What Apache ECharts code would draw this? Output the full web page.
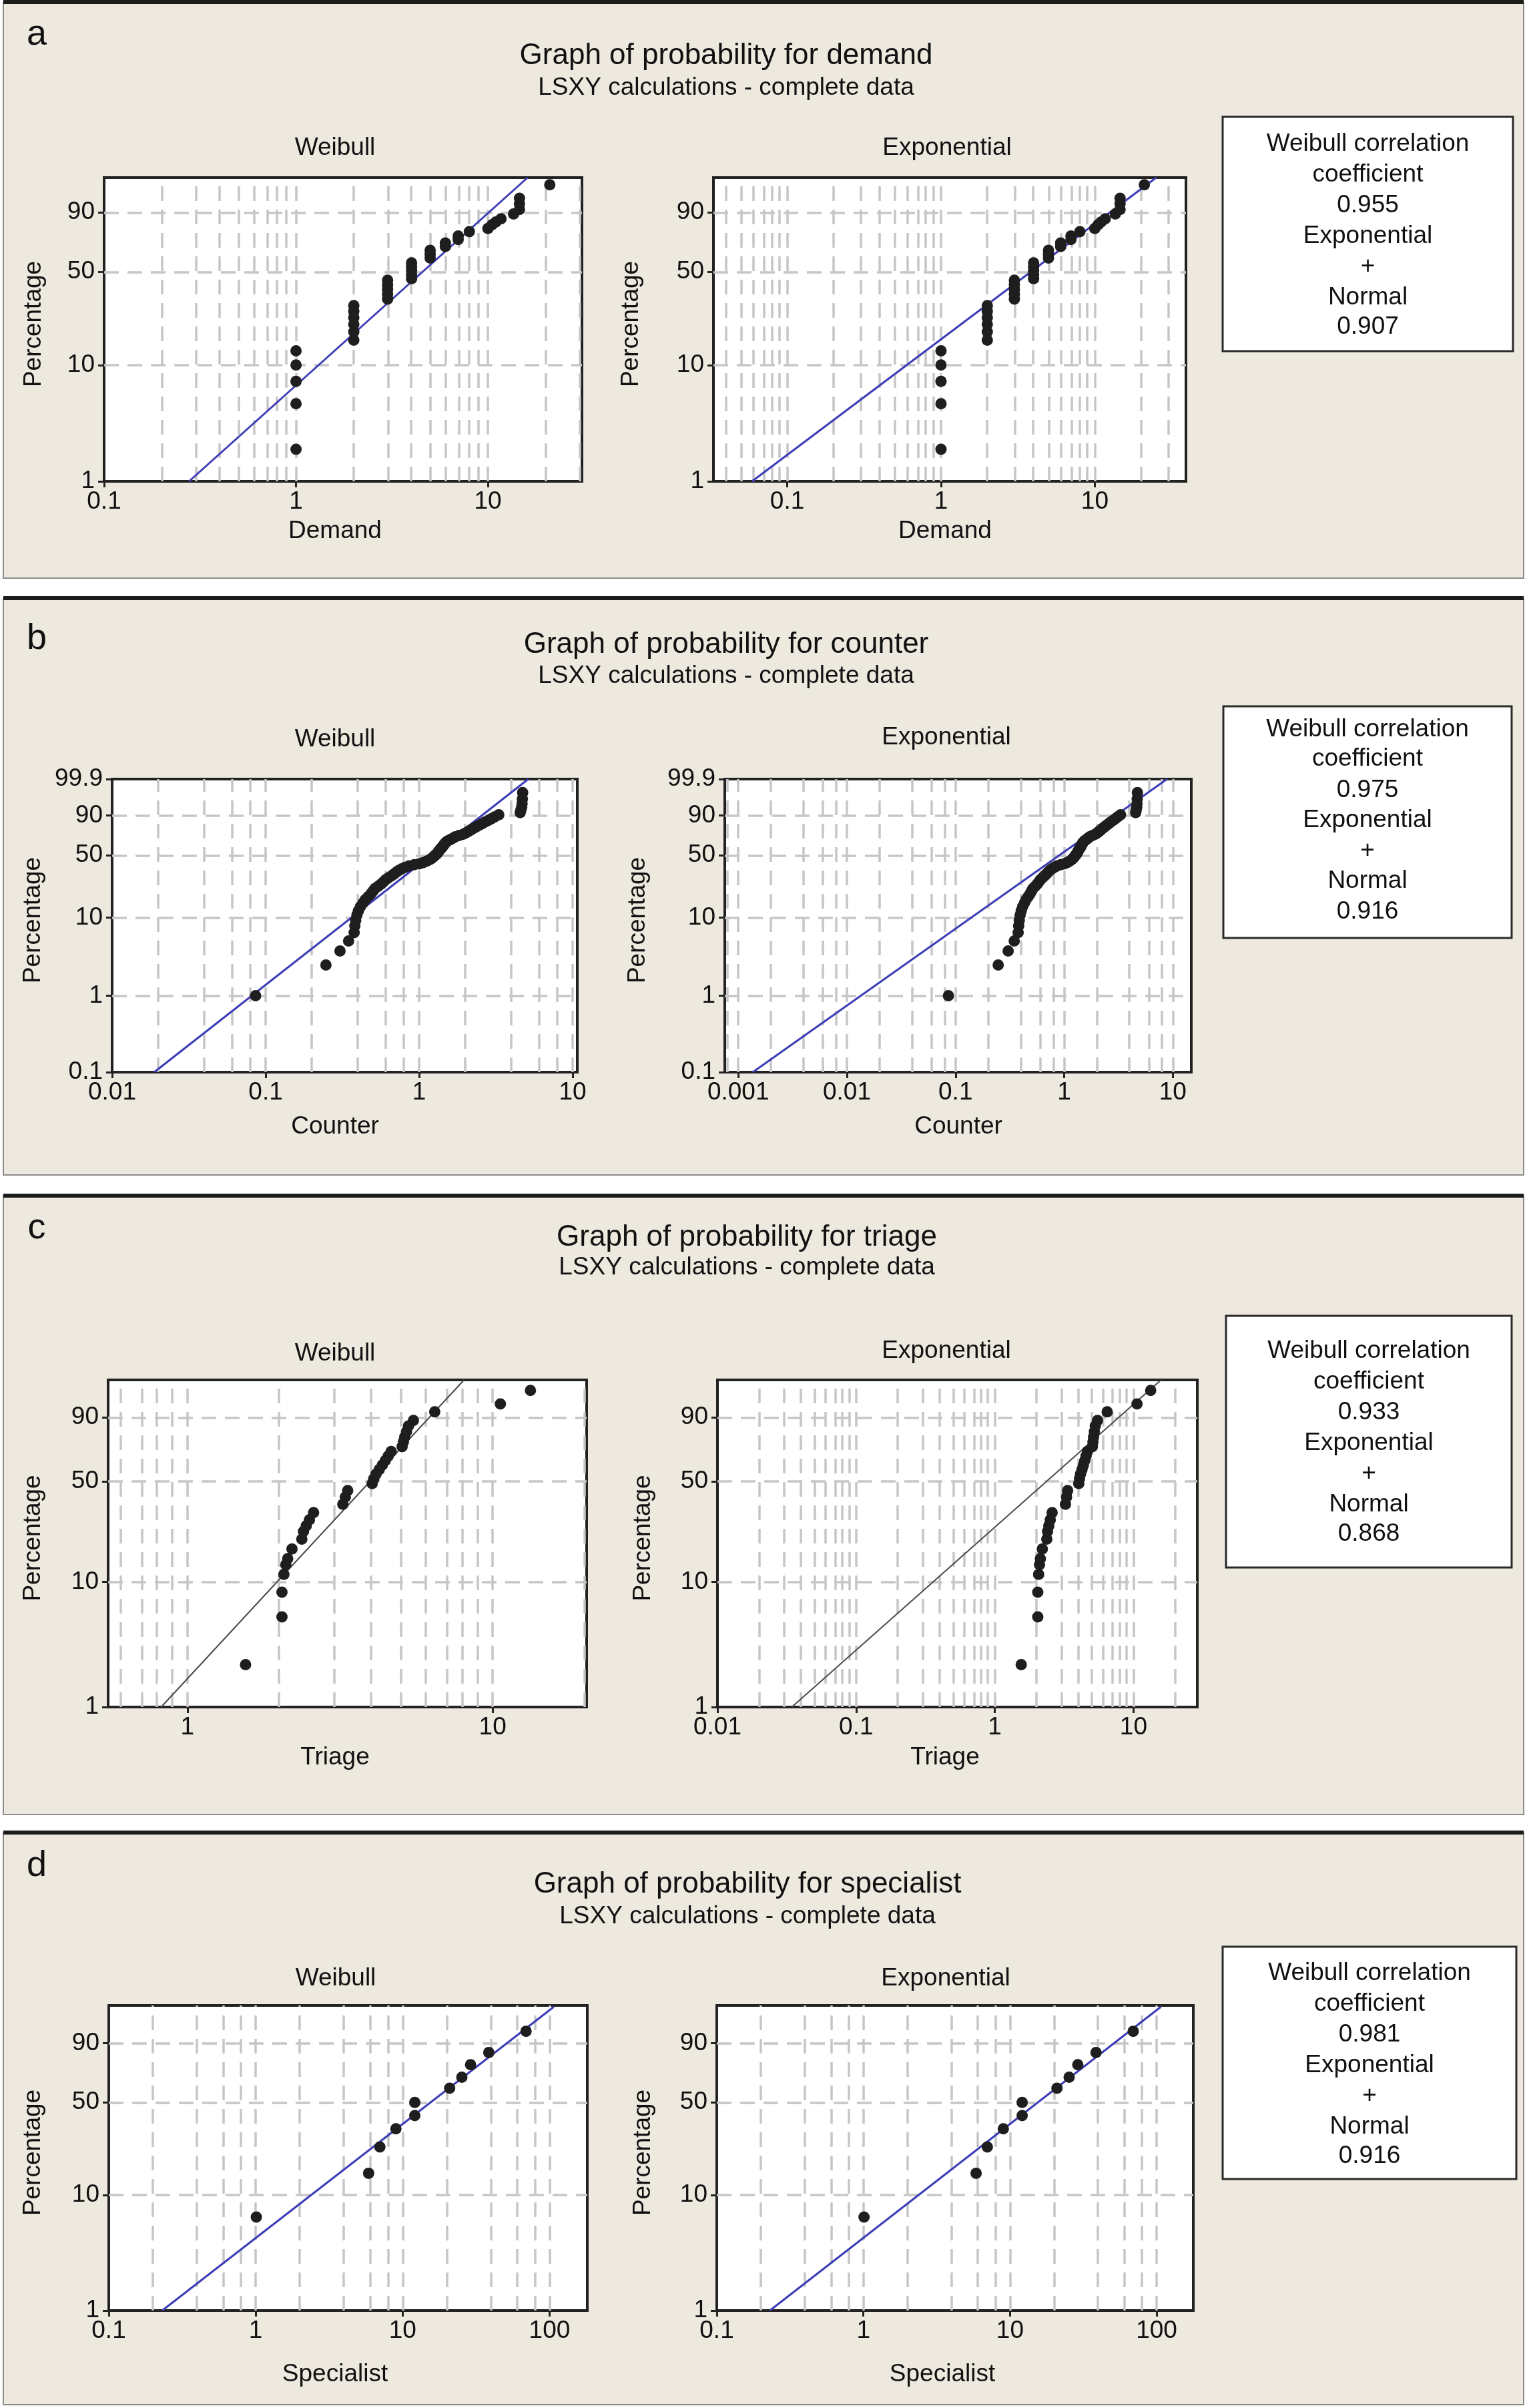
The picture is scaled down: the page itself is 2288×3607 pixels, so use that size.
<!DOCTYPE html>
<html>
<head>
<meta charset="utf-8">
<script src="https://cdn.jsdelivr.net/npm/echarts@6/dist/echarts.min.js"></script>
<style>
html,body{margin:0;padding:0;background:#ffffff;}
#chart{width:2288px;height:3607px;}
</style>
</head>
<body>
<div id="chart"></div>
<script>
// ---------------- DATA ----------------
// Panel a: demand
const demandX = [1,1,1,1,1,2,2,2,2,2,2,3,3,3,3,3,4,4,4,4,4,5,5,5,6,6,7,7,8,10,10.5,11,11.7,13.6,14.6,14.6,14.6,21];
const demandP = [1.9,4.7,7.3,10.0,13.1,16.0,18.6,21.3,24.0,26.8,29.5,32.9,35.7,38.5,41.3,44.2,45.3,48.0,50.8,53.6,56.4,59.9,62.7,65.7,68.5,71.0,73.5,76.0,79.0,81.0,83.3,85.0,86.7,89.2,91.3,93.5,95.3,98.2];
// Panel b: counter
const counterX = [0.086,0.247,0.305,0.347,0.377,0.381,0.386,0.393,0.402,0.415,0.43,0.445,0.465,0.485,0.50,0.515,0.54,0.565,0.585,0.605,0.63,0.66,0.685,0.71,0.735,0.77,0.81,0.86,0.93,1.0,1.06,1.12,1.17,1.21,1.24,1.27,1.30,1.32,1.34,1.36,1.38,1.41,1.43,1.45,1.47,1.50,1.54,1.60,1.66,1.72,1.82,1.94,2.02,2.10,2.17,2.25,2.34,2.44,2.55,2.66,2.80,2.95,3.10,3.30,4.55,4.60,4.65,4.68,4.70,4.72];
const counterP = [1.0,2.5,3.8,5.1,6.5,7.9,9.3,10.8,12.2,13.7,15.1,16.6,18.0,19.5,20.9,22.4,23.8,25.3,26.7,28.2,29.6,31.1,32.5,34.0,35.4,36.9,38.3,39.6,40.7,41.5,42.5,44.0,45.5,47.0,48.4,49.9,51.3,52.8,54.2,55.7,57.1,58.6,60.0,61.5,62.9,64.4,65.8,67.3,68.7,70.2,71.6,73.1,74.5,76.0,77.4,78.9,80.3,81.8,83.2,84.7,86.1,87.6,89.0,90.5,91.9,93.4,94.8,96.3,97.7,99.0];
// Panel c: triage
const triageX = [1.55,2.04,2.04,2.07,2.10,2.13,2.20,2.37,2.40,2.45,2.51,2.59,3.23,3.29,3.35,4.03,4.08,4.15,4.25,4.35,4.45,4.55,4.65,5.05,5.10,5.15,5.22,5.30,5.50,6.46,10.6,13.3];
const triageP = [2.2,5.3,8.3,11.4,13.5,15.0,17.7,20.9,23.7,26.0,28.6,32.0,36.3,40.3,44.2,48.6,51.7,54.8,57.9,61.0,64.1,67.2,70.3,73.5,76.6,79.7,82.8,85.9,88.6,92.2,94.8,97.8];
// Panel d: specialist
const specialistX = [1.01,5.87,7.0,9.0,12.1,12.1,20.9,25.3,29.0,38.6,69.2];
const specialistP = [6.5,15.1,24.4,33.3,41.1,49.9,60.2,68.5,77.4,85.1,94.7];

// Fitted lines: [value, percentage] at the points where they leave the plot
const demandWeibullFit = [[0.277,1],[16.1,99.04]];
const demandExpFit = [[0.059,1],[25.1,99.04]];
const counterWeibullFit = [[0.0188,0.1],[5.14,99.9]];
const counterExpFit = [[0.00136,0.1],[8.85,99.9]];
const triageWeibullFit = [[0.82,1],[8.06,99.04]];
const triageExpFit = [[0.0344,1],[15.8,99.04]];
const specialistWeibullFit = [[0.231,1],[107,99.2]];
const specialistExpFit = [[0.23,1],[107,99.2]];

// Tick labels
const demandWeibullXTicks = [0.1,1,10];
const demandExpXTicks = [0.1,1,10];
const counterWeibullXTicks = [0.01,0.1,1,10];
const counterExpXTicks = [0.001,0.01,0.1,1,10];
const triageWeibullXTicks = [1,10];
const triageExpXTicks = [0.01,0.1,1,10];
const specialistXTicks = [0.1,1,10,100];
const percentTicks = [1,10,50,90];
const counterPercentTicks = [0.1,1,10,50,90,99.9];

// Texts
const panelLetters = ['a','b','c','d'];
const panelTitles = ['Graph of probability for demand','Graph of probability for counter','Graph of probability for triage','Graph of probability for specialist'];
const subtitle = 'LSXY calculations - complete data';
const xNames = ['Demand','Counter','Triage','Specialist'];
const weibullCorr = ['0.955','0.975','0.933','0.981'];
const normalCorr = ['0.907','0.916','0.868','0.916'];

// ---------------- LAYOUT / STYLE ----------------
const FONT = '"Liberation Sans", Arial, Helvetica, sans-serif';
const BEIGE = '#EDE9DF';
const BLUE = '#3d3db8';
const minorAll = [2,3,4,5,6,7,8,9];
const minorEven = [2,4,6,8];

const layout = [
  {y0:3, y1:866, letterY:52, titleX:1088, titleY:84, subY:132, yP:[1,99.04], minor:minorAll, nameY:796, lineColor:BLUE, lineW:3,
   box:[1832,175,435,351], boxY:[216,262,308,354,400,446,490],
   plots:[{grid:[156,266,716,455], x:[-1,1.49], labelX:502, labelY:222, nameX:502, pctX:51},
          {grid:[1069,266,708,455], x:[-1.48,1.593], labelX:1419, labelY:222, nameX:1416, pctX:946}]},
  {y0:896, y1:1760, letterY:957, titleX:1088, titleY:966, subY:1013, yP:[0.1,99.9], minor:minorEven, nameY:1688, lineColor:BLUE, lineW:3,
   box:[1833,1058,432,347], boxY:[1093,1137,1184,1229,1275,1320,1366],
   plots:[{grid:[168,1167,697,439], x:[-2,1.03], labelX:502, labelY:1108, nameX:502, pctX:50},
          {grid:[1086,1167,699,439], x:[-3.124,1.17], labelX:1418, labelY:1105, nameX:1436, pctX:956}]},
  {y0:1791, y1:2718, letterY:1840, titleX:1119, titleY:1854, subY:1899, yP:[1,99.04], minor:minorAll, nameY:2633, lineColor:'#4a4a4a', lineW:2,
   box:[1837,1971,428,377], boxY:[2024,2070,2116,2162,2208,2254,2298],
   plots:[{grid:[162,2067,717,490], x:[-0.26,1.308], labelX:502, labelY:2028, nameX:502, pctX:50},
          {grid:[1075,2067,719,490], x:[-2,1.46], labelX:1418, labelY:2024, nameX:1416, pctX:964}]},
  {y0:2745, y1:3602, letterY:2795, titleX:1120, titleY:2823, subY:2871, yP:[1,99.3], minor:minorEven, nameY:3557, lineColor:BLUE, lineW:3,
   box:[1832,2916,440,348], boxY:[2956,3002,3048,3094,3140,3186,3230],
   plots:[{grid:[163,3004,717,457], x:[-1,2.257], labelX:503, labelY:2964, nameX:502, pctX:50},
          {grid:[1074,3004,714,457], x:[-1,2.25], labelX:1417, labelY:2964, nameX:1412, pctX:964}]}
];

// data bound to panels
const panels = [
  {X:demandX, P:demandP, fits:[demandWeibullFit, demandExpFit], xTicks:[demandWeibullXTicks, demandExpXTicks], yTicks:percentTicks},
  {X:counterX, P:counterP, fits:[counterWeibullFit, counterExpFit], xTicks:[counterWeibullXTicks, counterExpXTicks], yTicks:counterPercentTicks},
  {X:triageX, P:triageP, fits:[triageWeibullFit, triageExpFit], xTicks:[triageWeibullXTicks, triageExpXTicks], yTicks:percentTicks},
  {X:specialistX, P:specialistP, fits:[specialistWeibullFit, specialistExpFit], xTicks:[specialistXTicks, specialistXTicks], yTicks:percentTicks}
];

// probability-paper coordinates
const lx = v => Math.log10(v);
const wy = p => Math.log(-Math.log(1 - p / 100));

function gridLogValues(min, max, mult) {
  const out = [];
  for (let d = Math.floor(min) - 1; d <= Math.ceil(max); d++) {
    [1].concat(mult).forEach(m => {
      const v = d + Math.log10(m);
      if (v > min + 1e-6 && v < max - 1e-6) out.push(v);
    });
  }
  return out;
}

const grids = [], xAxes = [], yAxes = [], series = [], graphics = [];
let gi = 0;

layout.forEach((L, pi) => {
  const D = panels[pi];
  // panel background
  graphics.push({type:'rect', z:-100, shape:{x:5, y:L.y0, width:2278, height:L.y1 - L.y0},
    style:{fill:BEIGE, stroke:'#8c8c8c', lineWidth:2}});
  graphics.push({type:'line', z:-99, shape:{x1:5, y1:L.y0, x2:2283, y2:L.y0},
    style:{stroke:'#1c1c1c', lineWidth:6}});
  graphics.push({type:'text', z:50, style:{text:panelLetters[pi], x:55, y:L.letterY, textAlign:'center', textVerticalAlign:'middle', font:'54px ' + FONT, fill:'#111'}});
  graphics.push({type:'text', z:50, style:{text:panelTitles[pi], x:L.titleX, y:L.titleY, textAlign:'center', textVerticalAlign:'middle', font:'44px ' + FONT, fill:'#111'}});
  graphics.push({type:'text', z:50, style:{text:subtitle, x:L.titleX, y:L.subY, textAlign:'center', textVerticalAlign:'middle', font:'37px ' + FONT, fill:'#111'}});
  // correlation box
  const [bx, by, bw, bh] = L.box;
  graphics.push({type:'rect', z:40, shape:{x:bx, y:by, width:bw, height:bh}, style:{fill:'#ffffff', stroke:'#2a2a2a', lineWidth:3}});
  const boxLines = ['Weibull correlation','coefficient',weibullCorr[pi],'Exponential','+','Normal',normalCorr[pi]];
  boxLines.forEach((t, k) => {
    graphics.push({type:'text', z:50, style:{text:t, x:bx + bw / 2, y:L.boxY[k], textAlign:'center', textVerticalAlign:'middle', font:'37px ' + FONT, fill:'#111'}});
  });

  const yMin = wy(L.yP[0]), yMax = wy(L.yP[1]);
  const yTickVals = D.yTicks.map(wy);

  L.plots.forEach((PL, k) => {
    const [gl, gt, gw, gh] = PL.grid;
    graphics.push({type:'text', z:50, style:{text:k === 0 ? 'Weibull' : 'Exponential', x:PL.labelX, y:PL.labelY, textAlign:'center', textVerticalAlign:'middle', font:'37px ' + FONT, fill:'#111'}});
    graphics.push({type:'text', z:50, style:{text:xNames[pi], x:PL.nameX, y:L.nameY, textAlign:'center', textVerticalAlign:'middle', font:'37px ' + FONT, fill:'#111'}});
    graphics.push({type:'text', z:50, x:PL.pctX, y:gt + gh / 2 - 8, rotation:Math.PI / 2,
      style:{text:'Percentage', x:0, y:0, textAlign:'center', textVerticalAlign:'middle', font:'37px ' + FONT, fill:'#111'}});
    grids.push({left:gl, top:gt, width:gw, height:gh, show:true, backgroundColor:'#ffffff', borderColor:'#222222', borderWidth:4, containLabel:false, outerBoundsMode:'none'});
    const xt = D.xTicks[k];
    const xTickVals = xt.map(lx);
    xAxes.push({
      gridIndex:gi, type:'value', min:PL.x[0], max:PL.x[1], position:'bottom',
      axisLine:{show:false, onZero:false}, splitLine:{show:false},
      axisTick:{show:true, customValues:xTickVals, length:9, lineStyle:{color:'#222', width:3}},
      axisLabel:{show:true, customValues:xTickVals, margin:12, fontSize:37, color:'#111', fontFamily:FONT,
        formatter: v => { const t = xt.find(t => Math.abs(lx(t) - v) < 1e-6); return t === undefined ? '' : String(t); }}
    });
    yAxes.push({
      gridIndex:gi, type:'value', min:yMin, max:yMax, position:'left',
      axisLine:{show:false, onZero:false}, splitLine:{show:false},
      axisTick:{show:true, customValues:yTickVals, length:9, lineStyle:{color:'#222', width:3}},
      axisLabel:{show:true, customValues:yTickVals, margin:14, fontSize:37, color:'#111', fontFamily:FONT,
        formatter: v => { const t = D.yTicks.find(t => Math.abs(wy(t) - v) < 1e-6); return t === undefined ? '' : String(t); }}
    });
    // gridlines
    const vLines = gridLogValues(PL.x[0], PL.x[1], L.minor).map(v => ({xAxis:v}));
    const hLines = yTickVals.filter(v => v > yMin + 1e-6 && v < yMax - 1e-6).map(v => ({yAxis:v}));
    series.push({
      type:'line', xAxisIndex:gi, yAxisIndex:gi, data:[], silent:true, z:1,
      markLine:{silent:true, z:1, symbol:['none','none'], animation:false, label:{show:false},
        lineStyle:{color:'#c6c6c6', width:3.5, type:[22,13]},
        emphasis:{disabled:true},
        data:vLines.concat(hLines)}
    });
    // fitted line
    series.push({
      type:'line', xAxisIndex:gi, yAxisIndex:gi, z:3, symbol:'none', showSymbol:false, silent:true,
      lineStyle:{color:L.lineColor, width:L.lineW},
      data:D.fits[k].map(([v, p]) => [lx(v), wy(p)])
    });
    // data points
    series.push({
      type:'scatter', xAxisIndex:gi, yAxisIndex:gi, z:6, symbol:'circle', symbolSize:17, silent:true,
      itemStyle:{color:'#1e1e1e', opacity:1, borderWidth:0},
      data:D.X.map((v, i) => [lx(v), wy(D.P[i])])
    });
    gi++;
  });
});

const chart = echarts.init(document.getElementById('chart'), null, {renderer:'canvas'});
chart.setOption({
  animation:false,
  backgroundColor:'#ffffff',
  textStyle:{fontFamily:FONT},
  grid:grids, xAxis:xAxes, yAxis:yAxes, series:series,
  graphic:{elements:graphics}
});
</script>
</body>
</html>
